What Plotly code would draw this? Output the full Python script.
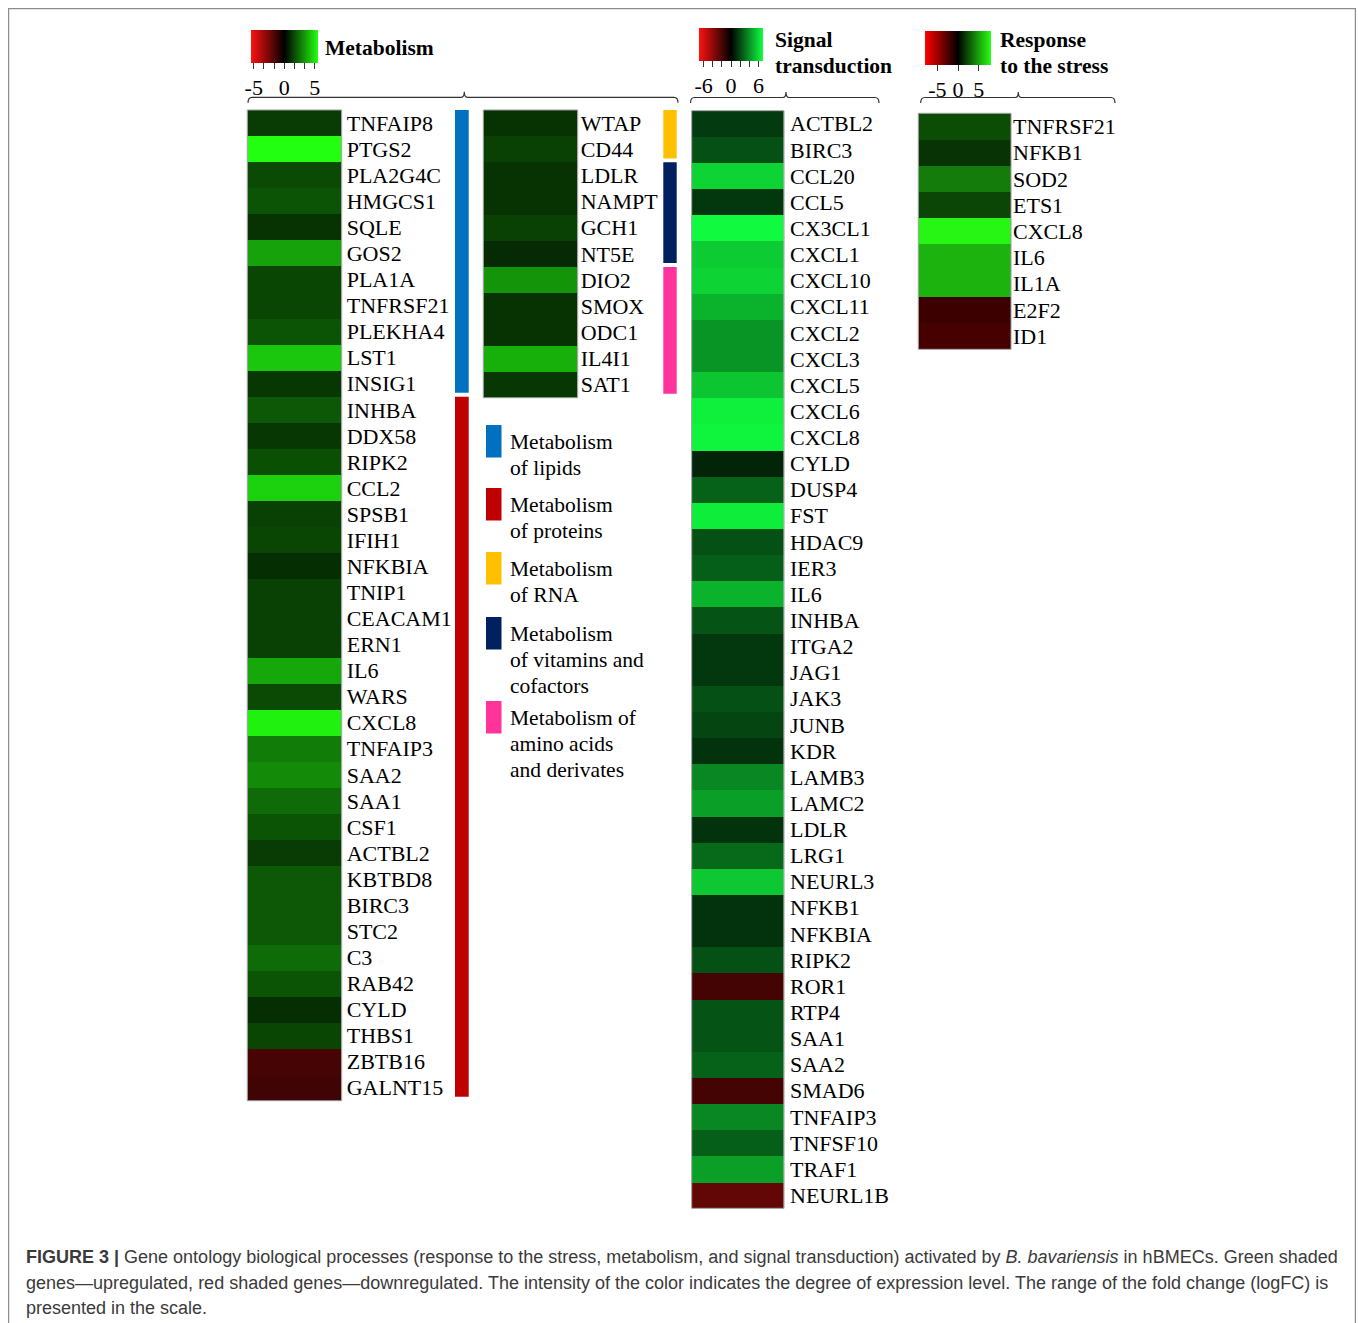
import plotly.graph_objects as go

W, H = 1358, 1323

def PX(x):
    return x / W

def PY(y):
    return 1 - y / H

# ---------------- DATA ----------------
metab1_genes = ["TNFAIP8", "PTGS2", "PLA2G4C", "HMGCS1", "SQLE", "GOS2", "PLA1A", "TNFRSF21",
                "PLEKHA4", "LST1", "INSIG1", "INHBA", "DDX58", "RIPK2", "CCL2", "SPSB1", "IFIH1",
                "NFKBIA", "TNIP1", "CEACAM1", "ERN1", "IL6", "WARS", "CXCL8", "TNFAIP3", "SAA2",
                "SAA1", "CSF1", "ACTBL2", "KBTBD8", "BIRC3", "STC2", "C3", "RAB42", "CYLD",
                "THBS1", "ZBTB16", "GALNT15"]
metab1_logfc = [1.3, 5.5, 1.6, 1.8, 1.1, 3.5, 1.5, 1.5, 1.8, 4.3, 1.2, 1.9, 1.2, 1.7, 4.5, 1.4,
                1.5, 1.0, 1.4, 1.4, 1.4, 3.6, 1.6, 5.2, 2.7, 3.0, 2.3, 1.8, 1.3, 1.9, 1.9, 1.9,
                2.3, 1.8, 1.0, 1.5, -1.5, -1.4]
metab1_group_names = ["Metabolism of lipids", "Metabolism of proteins"]
metab1_group_sizes = [11, 27]

metab2_genes = ["WTAP", "CD44", "LDLR", "NAMPT", "GCH1", "NT5E", "DIO2", "SMOX", "ODC1", "IL4I1", "SAT1"]
metab2_logfc = [1.1, 1.4, 1.1, 1.1, 1.4, 0.9, 3.2, 1.1, 1.1, 3.8, 1.2]
metab2_group_names = ["Metabolism of RNA", "Metabolism of vitamins and cofactors",
                      "Metabolism of amino acids and derivates"]
metab2_group_sizes = [2, 4, 5]

signal_genes = ["ACTBL2", "BIRC3", "CCL20", "CCL5", "CX3CL1", "CXCL1", "CXCL10", "CXCL11", "CXCL2",
                "CXCL3", "CXCL5", "CXCL6", "CXCL8", "CYLD", "DUSP4", "FST", "HDAC9", "IER3", "IL6",
                "INHBA", "ITGA2", "JAG1", "JAK3", "JUNB", "KDR", "LAMB3", "LAMC2", "LDLR", "LRG1",
                "NEURL3", "NFKB1", "NFKBIA", "RIPK2", "ROR1", "RTP4", "SAA1", "SAA2", "SMAD6",
                "TNFAIP3", "TNFSF10", "TRAF1", "NEURL1B"]
signal_logfc = [1.6, 2.2, 5.8, 1.5, 6.9, 5.6, 5.8, 4.9, 4.1, 4.1, 5.4, 6.6, 6.7, 1.0, 2.7, 6.5,
                2.2, 2.6, 4.9, 2.3, 1.5, 1.5, 2.2, 1.9, 1.4, 3.7, 4.4, 1.4, 2.9, 5.5, 1.4, 1.4,
                2.2, -1.9, 2.3, 2.3, 2.7, -1.9, 3.7, 2.6, 4.4, -2.7]

stress_genes = ["TNFRSF21", "NFKB1", "SOD2", "ETS1", "CXCL8", "IL6", "IL1A", "E2F2", "ID1"]
stress_logfc = [2.4, 1.6, 3.9, 2.2, 7.7, 5.6, 5.6, -1.9, -2.2]

group_colors = {
    "Metabolism of lipids": "#0070c0",
    "Metabolism of proteins": "#c00000",
    "Metabolism of RNA": "#ffc000",
    "Metabolism of vitamins and cofactors": "#002060",
    "Metabolism of amino acids and derivates": "#ff3399",
}
legend_lines = [
    ["Metabolism", "of lipids"],
    ["Metabolism", "of proteins"],
    ["Metabolism", "of RNA"],
    ["Metabolism", "of vitamins and", "cofactors"],
    ["Metabolism of", "amino acids", "and derivates"],
]
legend_order = ["Metabolism of lipids", "Metabolism of proteins", "Metabolism of RNA",
                "Metabolism of vitamins and cofactors", "Metabolism of amino acids and derivates"]

# ---------------- STYLE ----------------
SERIF = "Liberation Serif"
SANS = "Liberation Sans"
cs_metab = [[0, "#ff1010"], [0.5, "#000000"], [1, "#22ff10"]]
cs_signal = [[0, "#ff1010"], [0.5, "#000000"], [1, "#10ff40"]]
cs_stress = [[0, "#ff0000"], [0.5, "#000000"], [1, "#28ff14"]]

# panel pixel boxes: (left, right, top, bottom)
panels = [
    dict(genes=metab1_genes, vals=metab1_logfc, box=(247.3, 341.7, 110.0, 1100.7), cs=cs_metab,
         zr=5.5, standoff=4),
    dict(genes=metab2_genes, vals=metab2_logfc, box=(483.3, 577.7, 110.0, 397.7), cs=cs_metab,
         zr=5.5, standoff=2),
    dict(genes=signal_genes, vals=signal_logfc, box=(691.7, 784.0, 110.7, 1208.3), cs=cs_signal,
         zr=7.0, standoff=5),
    dict(genes=stress_genes, vals=stress_logfc, box=(918.3, 1011.0, 113.3, 349.3), cs=cs_stress,
         zr=8.0, standoff=1),
]

colorbars = {
    0: dict(box=(250.7, 317.3, 30.0, 63.3), tickvals=[-5, -10/3, -5/3, 0, 5/3, 10/3, 5],
            ticktext=["-5", "", "", "0", "", "", "5"]),
    2: dict(box=(699.0, 762.7, 28.3, 61.7), tickvals=[-6, -4, -2, 0, 2, 4, 6],
            ticktext=["-6", "", "", "0", "", "", "6"]),
    3: dict(box=(925.0, 990.7, 31.0, 65.0), tickvals=[-5, 0, 5],
            ticktext=["-5", "0", "5"]),
}

fig = go.Figure()
layout_axes = {}
shapes = []
annotations = []

for i, p in enumerate(panels):
    k = "" if i == 0 else str(i + 1)
    l, r, t, b = p["box"]
    n = len(p["genes"])
    tr = dict(
        z=[[v] for v in p["vals"]], x=[0], y=list(range(n)),
        colorscale=p["cs"], zmin=-p["zr"], zmax=p["zr"],
        xaxis="x" + k, yaxis="y" + k, hoverinfo="skip", xgap=0, ygap=0,
        showscale=i in colorbars,
    )
    if i in colorbars:
        cb = colorbars[i]
        cl, cr, ct, cbt = cb["box"]
        tr["colorbar"] = dict(
            orientation="h", x=PX(cl), xanchor="left", y=PY(ct), yanchor="top",
            len=cr - cl, lenmode="pixels", thickness=cbt - ct, thicknessmode="pixels",
            xpad=0, ypad=0, outlinewidth=0, borderwidth=0,
            tickmode="array", tickvals=cb["tickvals"], ticktext=cb["ticktext"],
            ticks="outside", ticklen=6, tickwidth=1.2, tickcolor="#333",
            tickfont=dict(family=SERIF, size=22, color="black"),
        )
    fig.add_trace(go.Heatmap(**tr))
    layout_axes["xaxis" + k] = dict(domain=[PX(l), PX(r)], visible=False, range=[-0.5, 0.5],
                                    anchor="y" + k, fixedrange=True)
    layout_axes["yaxis" + k] = dict(
        domain=[PY(b), PY(t)], range=[n - 0.5, -0.5], anchor="x" + k, side="right",
        tickmode="array", tickvals=list(range(n)), ticktext=p["genes"], ticks="",
        showgrid=False, zeroline=False, showline=False, ticklabelstandoff=p["standoff"],
        tickfont=dict(family=SERIF, size=22, color="black"), fixedrange=True,
    )
    shapes.append(dict(type="rect", xref="x" + k + " domain", yref="y" + k + " domain",
                       x0=0, x1=1, y0=0, y1=1, line=dict(color="#9a9a9a", width=1)))

# category bars beside the metabolism heatmaps
def add_group_bars(names, sizes, yref, xl, xr):
    start = 0
    for name, size in zip(names, sizes):
        shapes.append(dict(type="rect", xref="paper", yref=yref,
                           x0=PX(xl), x1=PX(xr), y0=start - 0.5, y1=start + size - 0.5 - 0.15,
                           fillcolor=group_colors[name], line=dict(width=0)))
        start += size

add_group_bars(metab1_group_names, metab1_group_sizes, "y", 455.0, 468.7)
add_group_bars(metab2_group_names, metab2_group_sizes, "y2", 663.3, 676.7)

# legend for metabolism categories
sq_tops = [425, 488, 552, 617, 701]
for name, top, lines in zip(legend_order, sq_tops, legend_lines):
    shapes.append(dict(type="rect", xref="paper", yref="paper",
                       x0=PX(486), x1=PX(501.5), y0=PY(top), y1=PY(top + 32.5),
                       fillcolor=group_colors[name], line=dict(width=0)))
    for j, txt in enumerate(lines):
        annotations.append(dict(text=txt, xref="paper", yref="paper", x=PX(508),
                                y=PY(top + 17 + 26 * j), xanchor="left", yanchor="middle",
                                showarrow=False, font=dict(family=SERIF, size=21.5, color="black")))

# titles next to colour keys
titles = [("Metabolism", 323, 48), ("Signal", 773, 40), ("transduction", 773, 66),
          ("Response", 998, 40), ("to the stress", 998, 66)]
for txt, x, y in titles:
    annotations.append(dict(text="<b>" + txt + "</b>", xref="paper", yref="paper", x=PX(x),
                            y=PY(y), xanchor="left", yanchor="middle", showarrow=False,
                            font=dict(family=SERIF, size=21.5, color="black")))

# braces above groups
def brace(x0, x1, xm, y):
    d = 5.5
    pts = (f"M {PX(x0)},{PY(y + d)} Q {PX(x0)},{PY(y)} {PX(x0 + 4)},{PY(y)} "
           f"L {PX(xm - 3)},{PY(y)} Q {PX(xm)},{PY(y)} {PX(xm)},{PY(y - d)} "
           f"Q {PX(xm)},{PY(y)} {PX(xm + 3)},{PY(y)} "
           f"L {PX(x1 - 4)},{PY(y)} Q {PX(x1)},{PY(y)} {PX(x1)},{PY(y + d)}")
    shapes.append(dict(type="path", xref="paper", yref="paper", path=pts,
                       line=dict(color="#333", width=1.2)))

brace(248, 678, 464.3, 97.3)
brace(690.5, 879, 786, 97.5)
brace(920.7, 1115, 1018.3, 97.5)

# frame
shapes.append(dict(type="rect", xref="paper", yref="paper", x0=PX(8.6), x1=PX(1355.4),
                   y0=PY(1340), y1=PY(8.6), line=dict(color="#8c8c8c", width=1.2)))

# caption
caption_lines = [
    "<b>FIGURE 3 |</b> Gene ontology biological processes (response to the stress, metabolism, and signal transduction) activated by <i>B. bavariensis</i> in hBMECs. Green shaded",
    "genes\u2014upregulated, red shaded genes\u2014downregulated. The intensity of the color indicates the degree of expression level. The range of the fold change (logFC) is",
    "presented in the scale.",
]
for j, txt in enumerate(caption_lines):
    annotations.append(dict(text=txt, xref="paper", yref="paper", x=PX(24), y=PY(1257 + 25.5 * j),
                            xanchor="left", yanchor="middle", showarrow=False,
                            font=dict(family=SANS, size=18, color="#3a3a3a")))

fig.update_layout(
    width=W, height=H, margin=dict(l=0, r=0, t=0, b=0),
    paper_bgcolor="white", plot_bgcolor="white", showlegend=False,
    shapes=shapes, annotations=annotations, **layout_axes,
)

fig.write_html("out.html", config={"displayModeBar": False},
               post_script="document.body.style.margin='0';document.body.style.overflow='hidden';")
